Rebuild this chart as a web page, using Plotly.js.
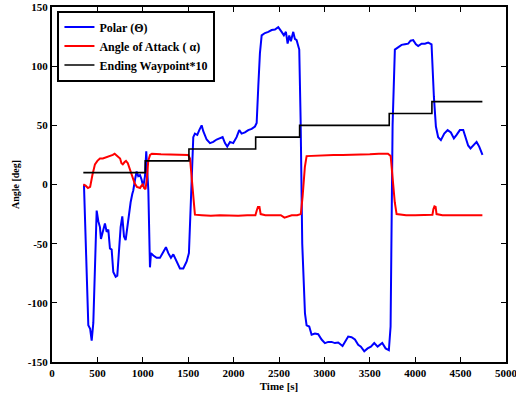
<!DOCTYPE html>
<html>
<head>
<meta charset="utf-8">
<script src="https://cdn.plot.ly/plotly-3.0.1.min.js"></script>
<style>html,body{margin:0;padding:0;background:#fff;}#chart{width:516px;height:397px;}</style>
</head>
<body>
<div id="chart"></div>
<script>
// Polar (Theta)
const polarT = [352,375,400,420,437,455,473,492,510,528,539,560,583,602,620,638,657,675,701,719,738,756,774,793,811,829,848,866,884,895,914,932,950,969,987,1005,1024,1038,1050,1061,1079,1090,1116,1152,1189,1226,1255,1281,1310,1336,1373,1409,1446,1483,1508,1525,1538,1556,1574,1600,1622,1648,1666,1703,1740,1776,1813,1850,1879,1905,1930,1960,1996,2033,2062,2088,2125,2161,2199,2235,2254,2272,2290,2309,2345,2382,2419,2455,2492,2529,2554,2576,2595,2613,2631,2657,2675,2694,2712,2723,2738,2756,2786,2804,2833,2859,2896,2932,2969,3006,3042,3079,3116,3152,3200,3226,3262,3299,3336,3372,3402,3439,3476,3512,3549,3586,3637,3674,3710,3729,3751,3776,3813,3850,3887,3923,3949,3978,4008,4033,4070,4107,4143,4180,4206,4228,4253,4283,4320,4357,4393,4426,4456,4492,4529,4555,4583,4609,4639,4676,4705,4741];
const polarV = [0,-60,-119,-122,-132,-117,-75,-22,-31,-36,-46,-40,-33,-40,-38,-54,-55,-74,-78,-77,-57,-36,-27,-44,-47,-36,-24,-15,-8,-5,4,11,7,8,4,-2,7,28,10,-5,-70,-58,-60,-62,-62,-57,-53,-58,-62,-59,-65,-71,-71,-65,-58,-20,4,40,43,42,46,50,45,38,35,36,38,39,40,35,32,36,35,40,46,43,44,46,47,49,52,83,111,126,128,129,130.5,131,133,129,126,129,119,126,121,129,123,122,118,114,55,-50,-109,-119,-120,-127,-126,-126.5,-131,-134,-133,-133,-134,-133.5,-136.5,-133,-128.5,-129,-131,-135.5,-137,-141,-138.5,-137,-134,-137,-134,-138.5,-140,-120,50,114,116,118,118.5,119,121.5,122,118.5,117,119,119,120,118.5,74,49,40,37.5,43,46,44,39,42,46,46,40,33,30.5,33,36,32,25];

// Angle of Attack (alpha)
const aoaT = [345,370,396,420,445,473,500,528,560,600,640,670,690,720,750,765,780,800,815,835,860,875,890,910,935,955,970,985,1000,1015,1030,1045,1060,1080,1100,1200,1300,1400,1450,1500,1520,1538,1555,1574,1650,1750,1850,1950,2050,2150,2240,2255,2268,2285,2298,2350,2450,2520,2560,2590,2640,2700,2740,2760,2785,2804,2900,3000,3100,3200,3300,3400,3500,3600,3700,3730,3755,3775,3795,3900,4000,4100,4190,4200,4212,4225,4235,4300,4400,4500,4600,4740];
const aoaV = [0,-1,-3,-2,8,17,20,22,22,23,24,25,26,24,22,18,17,19,20,18,12,8,4,1,-2,-3,-3,-1,0,-3,-4,5,20,25,26,25.5,25.5,25,25.5,25,22,5,-15,-25.5,-26,-26.5,-26,-26.5,-26.5,-26,-26,-22,-19,-19,-25,-26,-26,-26,-28,-27,-26,-26,-25,-10,15,24,24.5,24.5,25,25,25,25.5,25.5,26,26,24,0,-15,-25,-26,-26,-26,-25.5,-21,-18.5,-19,-25,-26,-26,-26,-26,-26];

// Ending Waypoint*10
const wpT = [345,1027,1508,2243,2727,3714,4184,4740];
const wpV = [10,20,30,40,50,60,70,70];

const xTicks = [0,500,1000,1500,2000,2500,3000,3500,4000,4500,5000];
const yTicks = [-150,-100,-50,0,50,100,150];

const fontFam = '"Liberation Serif", "Times New Roman", serif';

const traces = [
  {x: polarT, y: polarV, type: 'scatter', mode: 'lines', name: 'Polar (Θ)', line: {color: '#0000ff', width: 2}},
  {x: aoaT, y: aoaV, type: 'scatter', mode: 'lines', name: 'Angle of Attack ( α)', line: {color: '#ff0000', width: 2}},
  {x: wpT, y: wpV, type: 'scatter', mode: 'lines', name: 'Ending Waypoint*10', line: {color: '#000000', width: 1.6, shape: 'hv'}}
];

const axisCommon = {
  showgrid: false, zeroline: false, showline: true, linecolor: '#000', linewidth: 2,
  mirror: 'ticks', ticks: 'inside', ticklen: 5, tickwidth: 1, tickcolor: '#000',
  ticklabeloverflow: 'allow',
  tickfont: {family: fontFam, size: 11, color: '#000', weight: 'bold'}
};

const layout = {
  width: 516, height: 397,
  margin: {l: 52, r: 10, t: 7, b: 35},
  paper_bgcolor: '#fff', plot_bgcolor: '#fff',
  showlegend: true,
  legend: {
    x: 0.012, y: 0.99, xanchor: 'left', yanchor: 'top',
    bgcolor: '#fff', bordercolor: '#000', borderwidth: 2,
    font: {family: fontFam, size: 12, color: '#000', weight: 'bold'},
    tracegroupgap: 0, itemwidth: 30
  },
  xaxis: Object.assign({}, axisCommon, {
    range: [0, 5000], tickvals: xTicks, ticktext: xTicks.map(String),
    title: {text: 'Time [s]', font: {family: fontFam, size: 11, color: '#000', weight: 'bold'}, standoff: 4}
  }),
  yaxis: Object.assign({}, axisCommon, {
    range: [-150, 150], tickvals: yTicks, ticktext: yTicks.map(String),
    title: {text: 'Angle [deg]', font: {family: fontFam, size: 10, color: '#000', weight: 'bold'}, standoff: 6}
  })
};

Plotly.newPlot('chart', traces, layout, {displayModeBar: false, staticPlot: true});
</script>
</body>
</html>
